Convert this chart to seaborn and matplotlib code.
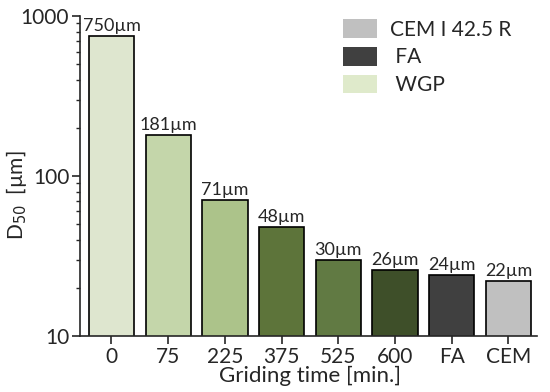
import seaborn as sns
import matplotlib.pyplot as plt
import pandas as pd
from matplotlib.patches import Patch
from matplotlib.ticker import LogLocator, NullFormatter

# dados
categorias = ["0", "75", "225", "375", "525", "600", "FA", "CEM"]
d50 = [750, 181, 71, 48, 30, 26, 24, 22]
rotulos = ["750µm", "181µm", "71µm", "48µm", "30µm", "26µm", "24µm", "22µm"]
cores = ["#dfeacb", "#c6dda3", "#aecd80", "#5f7e30", "#62833a", "#3f5523", "#404040", "#c0c0c0"]
legenda_nomes = ["CEM I 42.5 R", " FA", " WGP"]
legenda_cores = ["#c0c0c0", "#404040", "#dfeacb"]

sns.set_style("ticks")
plt.rcParams["font.family"] = ["Lato", "DejaVu Sans"]

df = pd.DataFrame({"tempo": categorias, "d50": d50})

fig = plt.figure(figsize=(5.5, 3.92), dpi=100)
ax = fig.add_axes([0.146, 0.143, 0.830, 0.816])

sns.barplot(data=df, x="tempo", y="d50", hue="tempo", palette=cores,
            edgecolor="black", linewidth=1.2, width=0.8, legend=False, ax=ax)

ax.set_yscale("log")
ax.set_ylim(10, 1000)
ax.set_xlim(-0.55, 7.5)
ax.yaxis.set_minor_locator(LogLocator(base=10, subs=range(2, 10)))
ax.yaxis.set_minor_formatter(NullFormatter())
ax.set_yticks([10, 100, 1000])
ax.set_yticklabels(["10", "100", "1000"])

# rotulos em cima das barras
for bar, txt in zip(ax.patches, rotulos):
    ax.text(bar.get_x() + bar.get_width() / 2, bar.get_height() * 1.03, txt,
            ha="center", va="bottom", fontsize=13)

ax.tick_params(axis="both", which="major", labelsize=15, length=6, width=1.2,
               direction="out", pad=2)
ax.tick_params(axis="y", which="minor", length=3, width=1, direction="out")
for s in ["left", "bottom"]:
    ax.spines[s].set_linewidth(1.2)
sns.despine(ax=ax)

ax.set_xlabel("Griding time [min.]", fontsize=16)
ax.set_ylabel("D$_{50}$  [µm]", fontsize=15)
ax.xaxis.set_label_coords(0.503, -0.095)
ax.yaxis.set_label_coords(-0.112, 0.44)

handles = [Patch(facecolor=c, edgecolor="none") for c in legenda_cores]
ax.legend(handles, legenda_nomes, loc="upper left", frameon=False, fontsize=15,
          handlelength=1.65, handleheight=1.0, labelspacing=0.35, handletextpad=0.6,
          borderpad=0, borderaxespad=0, bbox_to_anchor=(0.575, 0.99))

fig.savefig("out.png", dpi=100)
